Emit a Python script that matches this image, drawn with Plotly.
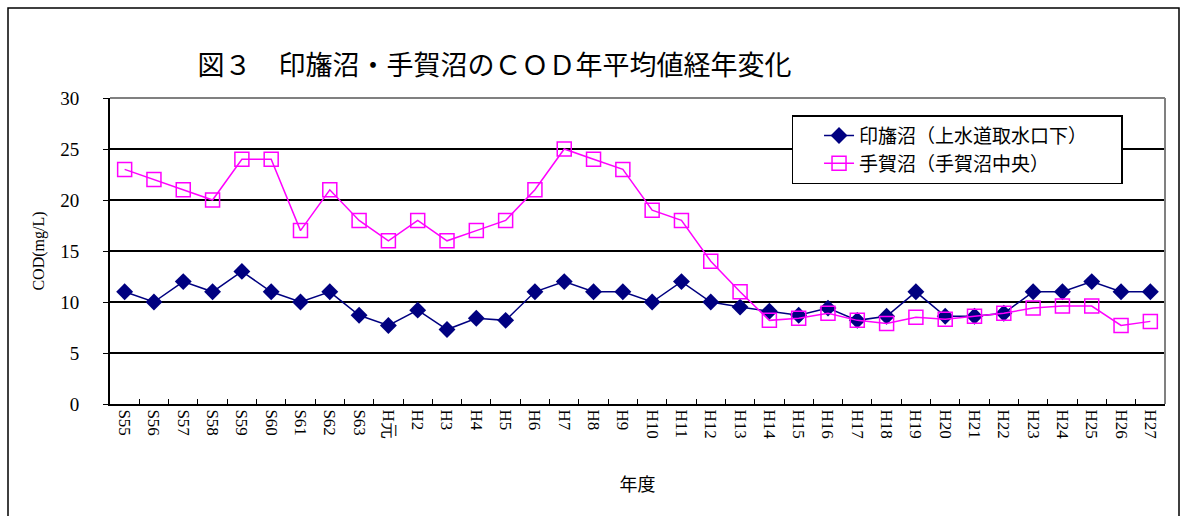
import plotly.graph_objects as go

years = ["S55", "S56", "S57", "S58", "S59", "S60", "S61", "S62", "S63", "H元",
         "H2", "H3", "H4", "H5", "H6", "H7", "H8", "H9", "H10", "H11", "H12",
         "H13", "H14", "H15", "H16", "H17", "H18", "H19", "H20", "H21", "H22",
         "H23", "H24", "H25", "H26", "H27"]

inba = [11, 10, 12, 11, 13, 11, 10, 11, 8.7, 7.7,
        9.2, 7.3, 8.4, 8.2, 11, 12, 11, 11, 10, 12, 10,
        9.5, 9.1, 8.7, 9.4, 8.2, 8.6, 11, 8.6, 8.6, 8.9,
        11, 11, 12, 11, 11]

teganuma = [23, 22, 21, 20, 24, 24, 17, 21, 18, 16,
            18, 16, 17, 18, 21, 25, 24, 23, 19, 18, 14,
            11, 8.2, 8.4, 8.9, 8.2, 7.9, 8.5, 8.3, 8.6, 8.9,
            9.4, 9.6, 9.6, 7.7, 8.1]

name_inba = "印旛沼（上水道取水口下）　　"
name_tega = "手賀沼（手賀沼中央）"
title_text = "図３　印旛沼・手賀沼のＣＯＤ年平均値経年変化"

JP = "Noto Sans CJK JP"
SERIF = "Liberation Serif, 'DejaVu Serif', serif"

fig = go.Figure()
fig.add_trace(go.Scatter(
    x=years, y=inba, name=name_inba, mode="lines+markers", legendgroup="a",
    line=dict(color="#000080", width=1.5),
    marker=dict(symbol="diamond", size=13, color="#000080"),
))
fig.add_trace(go.Scatter(
    x=years, y=teganuma, name=name_tega, mode="lines+markers", legendgroup="b",
    line=dict(color="#FF00FF", width=1.5),
    marker=dict(symbol="square-open", size=14, color="#FF00FF",
                line=dict(width=1.5, color="#FF00FF")),
))

fig.update_layout(
    width=1186, height=516,
    margin=dict(l=110, r=21, t=98, b=112, autoexpand=False),
    paper_bgcolor="white", plot_bgcolor="white",
    title=dict(text=title_text, x=0.417, xanchor="center", y=0.872,
               yanchor="middle", automargin=False,
               font=dict(family=JP, size=27, color="black")),
    legend=dict(x=0.646, y=0.944, xanchor="left", yanchor="top",
                bgcolor="white", bordercolor="black", borderwidth=1.5,
                font=dict(family=JP, size=19, color="black"),
                tracegroupgap=0, indentation=26),
    showlegend=True,
)

fig.update_xaxes(
    type="category", range=[-0.5, len(years) - 0.5], autorange=False,
    tickangle=90, showgrid=False, automargin=False,
    showline=True, linecolor="black", linewidth=2,
    ticks="inside", tickson="boundaries", ticklen=5, tickcolor="black",
    tickfont=dict(family=SERIF, size=17, color="black"),
    title=dict(text="年度", font=dict(family=JP, size=18, color="black"),
               standoff=40),
)
fig.update_yaxes(
    range=[0, 30], dtick=5, showgrid=True, gridcolor="black", gridwidth=1.5,
    showline=True, linecolor="black", linewidth=2, automargin=False,
    ticks="outside", ticklen=5, tickcolor="black", ticklabelstandoff=20,
    tickfont=dict(family=SERIF, size=19, color="black"),
    title=dict(text="COD(mg/L)", font=dict(family=SERIF, size=16, color="black"),
               standoff=12),
    zeroline=False,
)

# top and right plot-area frame (gray)
fig.add_shape(type="line", xref="paper", yref="paper", x0=0, x1=1, y0=1, y1=1,
              line=dict(color="#808080", width=2))
fig.add_shape(type="line", xref="paper", yref="paper", x0=1, x1=1, y0=0, y1=1,
              line=dict(color="#808080", width=2))
# outer chart border
fig.add_shape(type="rect", xref="paper", yref="paper",
              x0=(8 - 110) / 1055, x1=(1179 - 110) / 1055,
              y0=-0.45, y1=(404 - 8) / 306,
              line=dict(color="black", width=1.5), layer="below")

fig.write_html("out.html", config={"displayModeBar": False},
               post_script="document.body.style.margin='0';")
